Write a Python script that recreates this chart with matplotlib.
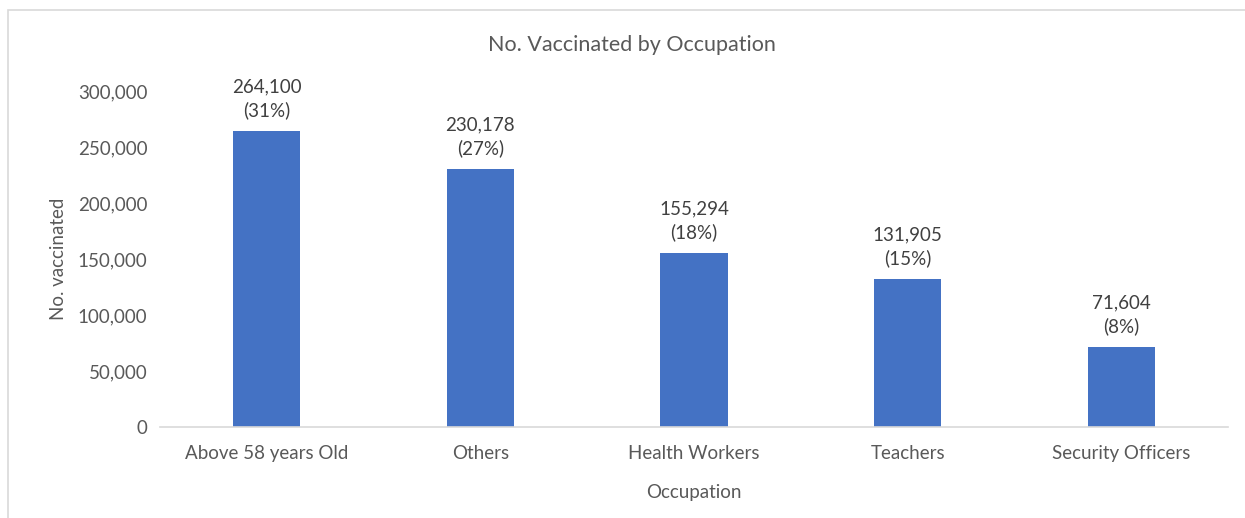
import matplotlib.pyplot as plt
from matplotlib.patches import Rectangle
from matplotlib.ticker import FuncFormatter

occupations = ["Above 58 years Old", "Others", "Health Workers", "Teachers", "Security Officers"]
vaccinated = [264100, 230178, 155294, 131905, 71604]
shares = [31, 27, 18, 15, 8]

plt.rcParams['font.family'] = ['Lato', 'DejaVu Sans']

fig = plt.figure(figsize=(12.45, 5.18), dpi=100)
ax = fig.add_axes([160 / 1245, 1 - 427 / 518, 1068 / 1245, 336 / 518])

# outer chart frame
fig.patches.append(Rectangle((8 / 1245, -0.02), 1.1, 1 - 10 / 518 + 0.02, transform=fig.transFigure,
                             fill=False, edgecolor='#d9d9d9', linewidth=1.2))

x = range(len(occupations))
ax.bar(x, vaccinated, width=0.315, color='#4472c4')

for i, (v, s) in enumerate(zip(vaccinated, shares)):
    ax.text(i, v + 10500, f"{v:,}\n({s}%)", ha='center', va='bottom', fontsize=13.5,
            color='#404040', linespacing=1.4, clip_on=False)

ax.set_xlim(-0.5, len(occupations) - 0.5)
ax.set_ylim(0, 300000)
ax.set_yticks(range(0, 300001, 50000))
ax.yaxis.set_major_formatter(FuncFormatter(lambda v, p: f"{int(v):,}"))
ax.set_xticks(list(x))
ax.set_xticklabels(occupations)

for side in ['top', 'right', 'left']:
    ax.spines[side].set_visible(False)
ax.spines['bottom'].set_color('#d9d9d9')
ax.spines['bottom'].set_linewidth(1.2)
ax.tick_params(axis='both', length=0, labelsize=13.5, labelcolor='#595959')
ax.tick_params(axis='y', pad=9)
ax.tick_params(axis='x', pad=13)

ax.set_xlabel("Occupation", fontsize=13.5, color='#595959', labelpad=16)
ax.set_ylabel("No. vaccinated", fontsize=13.5, color='#595959', labelpad=8)
fig.text(632 / 1245, 1 - 45 / 518, "No. Vaccinated by Occupation", ha='center', va='center',
         fontsize=15.5, color='#595959')

fig.savefig("out.png", dpi=100)
